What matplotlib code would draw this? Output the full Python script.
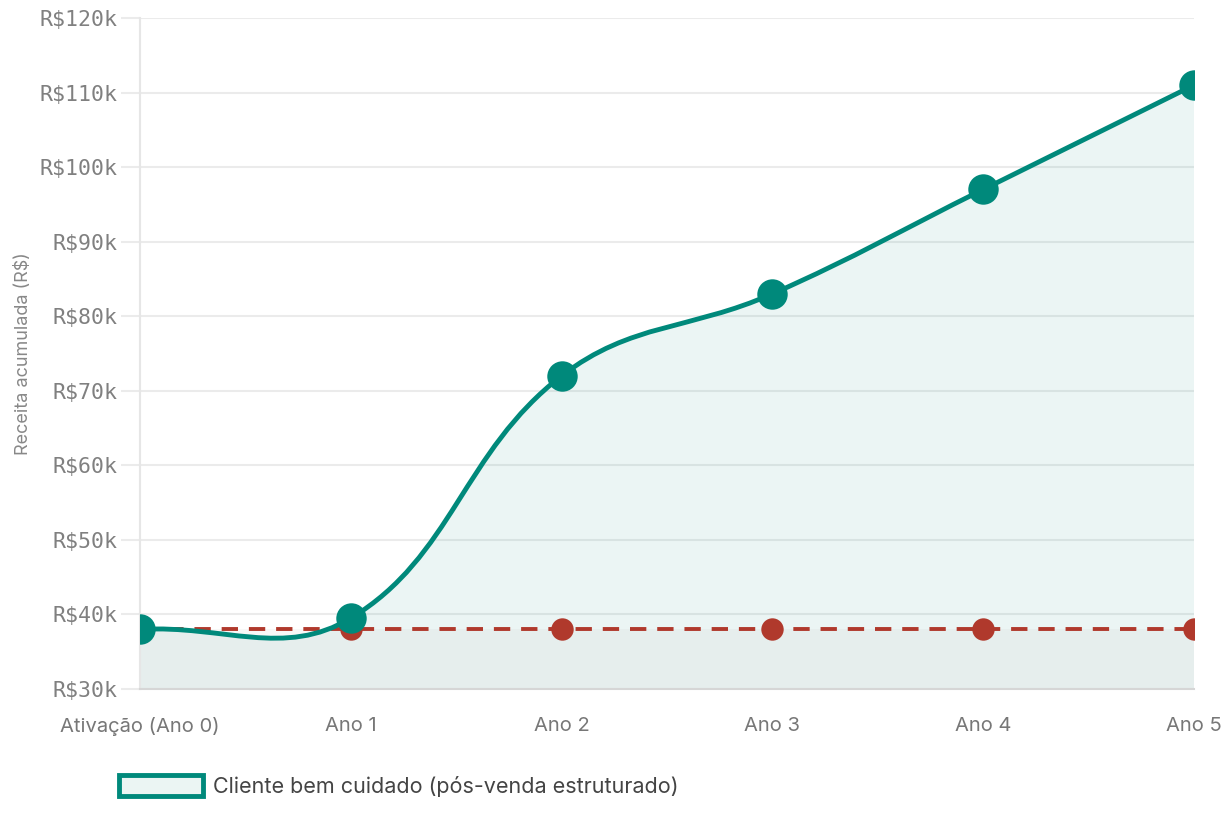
import matplotlib
matplotlib.use("Agg")
import matplotlib.pyplot as plt
from matplotlib.path import Path
from matplotlib.patches import PathPatch, Patch
import numpy as np

categories = ["Ativação (Ano 0)", "Ano 1", "Ano 2", "Ano 3", "Ano 4", "Ano 5"]
cared = [38, 39.5, 72, 83, 97, 111]       # R$ mil
baseline = [38, 38, 38, 38, 38, 38]       # R$ mil
yticks = [30, 40, 50, 60, 70, 80, 90, 100, 110, 120]
legend_label = "Cliente bem cuidado (pós-venda estruturado)"
ylabel = "Receita acumulada (R$)"

TEAL = "#00897b"
RED = "#b0392c"

fig = plt.figure(figsize=(12.28, 8.18), dpi=100)
ax = fig.add_axes([140/1228, 1-689/818, (1194-140)/1228, (689-18)/818])
x = np.arange(len(categories))
ax.set_xlim(0, len(categories)-1)
ax.set_ylim(yticks[0], yticks[-1])

# Chart.js-like spline (tension 0.4) in pixel space
def spline_path(xs, ys, tension=0.4):
    pts = ax.transData.transform(np.column_stack([xs, ys]))
    n = len(pts)
    cps = []
    for i in range(n):
        prev = pts[max(i-1, 0)]
        cur = pts[i]
        nxt = pts[min(i+1, n-1)]
        d01 = np.hypot(*(cur-prev)); d12 = np.hypot(*(nxt-cur))
        tot = d01 + d12
        s01 = d01/tot if tot else 0; s12 = d12/tot if tot else 0
        fa = tension*s01; fb = tension*s12
        cps.append((cur - fa*(nxt-prev), cur + fb*(nxt-prev)))
    verts = [pts[0]]; codes = [Path.MOVETO]
    for i in range(n-1):
        verts += [cps[i][1], cps[i+1][0], pts[i+1]]
        codes += [Path.CURVE4]*3
    inv = ax.transData.inverted()
    return inv.transform(np.array(verts)), codes

v, c = spline_path(x, cared)
fv = np.vstack([v, [[x[-1], yticks[0]], [x[0], yticks[0]], v[0]]])
fc = c + [Path.LINETO, Path.LINETO, Path.CLOSEPOLY]
ax.add_patch(PathPatch(Path(fv, fc), facecolor=TEAL, alpha=0.08, edgecolor="none", zorder=1))
ax.fill_between(x, yticks[0], baseline, color="#b0a8a0", alpha=0.08, lw=0, zorder=1)

ax.add_patch(PathPatch(Path(v, c), facecolor="none", edgecolor=TEAL, lw=3.5, zorder=4, capstyle="round"))
ax.plot(x, baseline, color=RED, lw=2.8, ls=(0, (4.2, 2.8)), zorder=3)
ax.scatter(x, baseline, s=260, color=RED, zorder=3, lw=0)
ax.scatter(x, cared, s=480, color=TEAL, zorder=5, lw=0)

ax.set_yticks(yticks)
ax.set_yticklabels([f"R${t}k" for t in yticks], family="DejaVu Sans Mono", fontsize=15.5, color="#808080")
ax.set_xticks(x)
ax.set_xticklabels(categories, family="Inter", fontsize=14.5, color="#777777")
ax.tick_params(axis="y", length=14, color="#ebebeb", width=1.5, pad=2)
ax.tick_params(axis="x", length=0, pad=20)
ax.grid(axis="y", color="#ebebeb", lw=1.5, zorder=0)
for s in ["top", "right"]:
    ax.spines[s].set_visible(False)
ax.spines["left"].set_color("#e6e6e6"); ax.spines["left"].set_linewidth(1.5)
ax.spines["bottom"].set_color("#d6d6d6"); ax.spines["bottom"].set_linewidth(1.5)
ax.set_axisbelow(True)
ax.set_ylabel(ylabel, family="Inter", fontsize=13, color="#888888")
ax.yaxis.set_label_coords(-0.102, 0.5)

handle = Patch(facecolor="#ebf5f3", edgecolor=TEAL, lw=3.5)
fig.legend([handle], [legend_label], loc="center left", bbox_to_anchor=(100/1228, 1-786/818),
           frameon=False, handlelength=3.9, handleheight=1.15, handletextpad=0.45,
           prop={"family": "Inter", "size": 15.5}, labelcolor="#444444")

fig.savefig("out.png", dpi=100)
